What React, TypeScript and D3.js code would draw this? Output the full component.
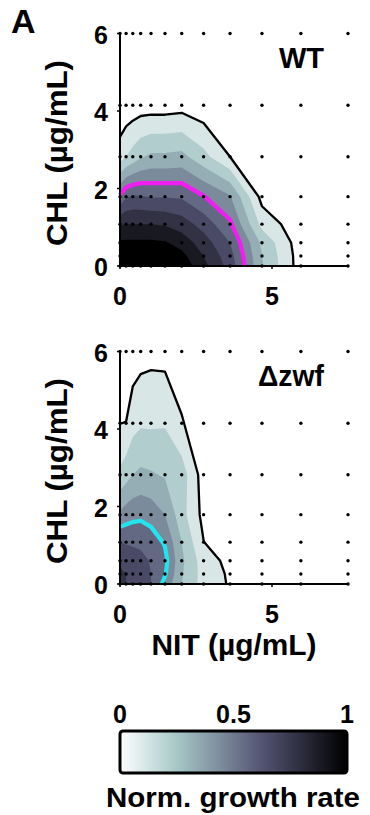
import React from 'react';
import * as d3 from 'd3';

// Concentration grid (measurement points shown as dots)
const nitConc = [0, 0.2, 0.42, 0.68, 1.02, 1.48, 2.03, 2.75, 3.62, 4.67, 5.95, 7.5];
const chlConc = [0, 0.26, 0.6, 1.08, 1.79, 2.82, 4.15, 6];

// Normalized growth rate, rows = CHL (bottom to top), columns = NIT
const wtGrowth = [
  [1.0, 1.0, 1.0, 1.0, 1.0, 0.99, 0.97, 0.83, 0.66, 0.31, 0.05, 0],
  [0.97, 0.97, 0.97, 0.97, 0.97, 0.96, 0.93, 0.8, 0.64, 0.3, 0.05, 0],
  [0.915, 0.92, 0.92, 0.92, 0.92, 0.91, 0.86, 0.75, 0.6, 0.28, 0.04, 0],
  [0.79, 0.8, 0.8, 0.8, 0.8, 0.79, 0.75, 0.66, 0.517, 0.167, 0.03, 0],
  [0.515, 0.591, 0.611, 0.609, 0.593, 0.593, 0.587, 0.505, 0.41, 0.064, 0.01, 0],
  [0.15, 0.2, 0.24, 0.288, 0.32, 0.32, 0.33, 0.232, 0.1, 0.03, 0, 0],
  [0.02, 0.03, 0.04, 0.05, 0.05, 0.05, 0.06, 0.03, 0.02, 0.01, 0, 0],
  [0, 0, 0, 0, 0, 0, 0, 0, 0, 0, 0, 0],
];
const zwfGrowth = [
  [0.72, 0.7, 0.68, 0.65, 0.6, 0.47, 0.3, 0.16, 0.09, 0.02, 0, 0],
  [0.72, 0.7, 0.68, 0.65, 0.6, 0.51, 0.31, 0.16, 0.085, 0.02, 0, 0],
  [0.68, 0.67, 0.66, 0.64, 0.59, 0.53, 0.32, 0.15, 0.07, 0.01, 0, 0],
  [0.6, 0.59, 0.58, 0.57, 0.55, 0.49, 0.3, 0.102, 0.03, 0, 0, 0],
  [0.42, 0.45, 0.47, 0.48, 0.46, 0.4, 0.237, 0.07, 0.01, 0, 0, 0],
  [0.22, 0.26, 0.3, 0.32, 0.31, 0.29, 0.25, 0.05, 0, 0, 0, 0],
  [0.099, 0.102, 0.163, 0.187, 0.185, 0.19, 0.111, 0.01, 0, 0, 0, 0],
  [0, 0.02, 0.04, 0.06, 0.07, 0.065, 0.02, 0, 0, 0, 0, 0],
];

const contourLevels = [0.1, 0.2, 0.3, 0.4, 0.5, 0.6, 0.7, 0.8, 0.9];
const outlineLevel = 0.1;
const highlightLevel = 0.5;
const panelNames = ['WT', '\u0394zwf'];
const panelGrids = [wtGrowth, zwfGrowth];
const xTicks = [0, 5];
const yTicks = [0, 2, 4, 6];
const colorbarTicks = [0, 0.5, 1];

const FONT = "'Liberation Sans', Arial, Helvetica, sans-serif";

function bone(t: number) {
  const c = (v: number) => Math.max(0, Math.min(1, v));
  const r = (7 * t + c((t - 0.75) / 0.25)) / 8;
  const g = (7 * t + c((t - 0.375) / 0.375)) / 8;
  const b = (7 * t + c(t / 0.375)) / 8;
  return d3.rgb(r * 255, g * 255, b * 255).formatHex();
}
const cmap = (v: number) => bone(1 - Math.max(0, Math.min(1, v)));
// fill colour scale for contour bands (colour limits 0 .. top level)
const bandColor = (level: number) => cmap(level / contourLevels[contourLevels.length - 1]);

function idxToVal(arr: number[], c: number) {
  const u = Math.max(0, Math.min(arr.length - 1, c - 0.5));
  const i = Math.min(arr.length - 2, Math.floor(u));
  const f = u - i;
  return arr[i] + f * (arr[i + 1] - arr[i]);
}

const x = d3.scaleLinear().domain([0, 7.5]).range([120, 348]);
const y = d3.scaleLinear().domain([0, 6]).range([266, 33.5]);
const PANEL_DY = 318;

function Panel({ grid, name, idx }: { grid: number[][]; name: string; idx: number }) {
  const nx = nitConc.length;
  const ny = chlConc.length;
  const flat = grid.flat();
  const gen = d3.contours().size([nx, ny]).thresholds(contourLevels);
  const polys = gen(flat);

  const toData = (p: number[]) => [idxToVal(nitConc, p[0]), idxToVal(chlConc, p[1])];

  const fillPath = (mp: any) => {
    let d = '';
    for (const poly of mp.coordinates) {
      for (const ring of poly) {
        ring.forEach((p: number[], i: number) => {
          const [a, b] = toData(p);
          d += (i === 0 ? 'M' : 'L') + x(a).toFixed(2) + ',' + y(b).toFixed(2);
        });
        d += 'Z';
      }
    }
    return d;
  };

  const strokePath = (mp: any) => {
    let d = '';
    const eps = 1e-9;
    for (const poly of mp.coordinates) {
      for (const ring of poly) {
        const pts = ring.map(toData);
        let penDown = false;
        for (let i = 0; i < pts.length - 1; i++) {
          const p0 = pts[i];
          const p1 = pts[i + 1];
          const boundary =
            (p0[0] <= eps && p1[0] <= eps) || (p0[1] <= eps && p1[1] <= eps);
          if (boundary) {
            penDown = false;
            continue;
          }
          if (!penDown) {
            d += 'M' + x(p0[0]).toFixed(2) + ',' + y(p0[1]).toFixed(2);
            penDown = true;
          }
          d += 'L' + x(p1[0]).toFixed(2) + ',' + y(p1[1]).toFixed(2);
        }
      }
    }
    return d;
  };

  const outline = polys.find((p) => Math.abs(p.value - outlineLevel) < 1e-9);
  const hl = polys.find((p) => Math.abs(p.value - highlightLevel) < 1e-9);
  const hlColor = idx === 0 ? '#f01ef0' : '#22e4ee';

  return (
    <g transform={`translate(0,${idx * PANEL_DY})`}>
      {polys.map((p, i) => (
        <path key={i} d={fillPath(p)} fill={bandColor(p.value)} stroke="none" />
      ))}
      {hl && (
        <path d={strokePath(hl)} fill="none" stroke={hlColor} strokeWidth={4.2} strokeLinejoin="round" />
      )}
      {outline && (
        <path d={strokePath(outline)} fill="none" stroke="#000" strokeWidth={2.3} strokeLinejoin="round" />
      )}
      {chlConc.map((c, j) =>
        nitConc.map((n, i) => (
          <circle key={`${i}-${j}`} cx={x(n)} cy={y(c)} r={1.7} fill="#000" />
        ))
      )}
      {/* axes */}
      <line x1={x(0)} x2={x(0)} y1={y(6) - 1} y2={y(0)} stroke="#000" strokeWidth={2} />
      <line x1={x(0)} x2={x(7.5)} y1={y(0)} y2={y(0)} stroke="#000" strokeWidth={2} />
      {yTicks.map((t) => (
        <g key={t}>
          <line x1={x(0) - 3} x2={x(0)} y1={y(t)} y2={y(t)} stroke="#000" strokeWidth={1.5} />
          <text x={108} y={y(t) + 10} textAnchor="end" fontSize={25} fontWeight="bold" fontFamily={FONT}>
            {t}
          </text>
        </g>
      ))}
      {xTicks.map((t) => (
        <g key={t}>
          <line x1={x(t)} x2={x(t)} y1={y(0)} y2={y(0) + 3} stroke="#000" strokeWidth={1.5} />
          <text x={x(t)} y={305} textAnchor="middle" fontSize={25} fontWeight="bold" fontFamily={FONT}>
            {t}
          </text>
        </g>
      ))}
      <text
        transform="translate(67,153)rotate(-90)"
        textAnchor="middle"
        fontSize={29}
        fontWeight="bold"
        fontFamily={FONT}
        textLength={186}
        lengthAdjust="spacingAndGlyphs"
      >
        CHL (µg/mL)
      </text>
      <text
        x={324}
        y={68}
        textAnchor="end"
        fontSize={29}
        fontWeight="bold"
        fontFamily={FONT}
        {...(idx === 1 ? { textLength: 66, lengthAdjust: 'spacingAndGlyphs' } : {})}
      >
        {name}
      </text>
    </g>
  );
}

export default function App() {
  const cb = d3.scaleLinear().domain([0, 1]).range([120, 347]);
  const stops = d3.range(0, 1.0001, 0.05);
  return (
    <svg
      width={370}
      height={815}
      viewBox="0 0 370 815"
      style={{ position: 'absolute', left: 0, top: 0, display: 'block', background: '#fff' }}
    >
      <defs>
        <linearGradient id="cbgrad" x1="0" x2="1" y1="0" y2="0">
          {stops.map((s) => (
            <stop key={s} offset={s} stopColor={cmap(s)} />
          ))}
        </linearGradient>
      </defs>
      <rect x={0} y={0} width={370} height={815} fill="#fff" />
      <text x={11} y={33} fontSize={34} fontWeight="bold" fontFamily={FONT}>
        A
      </text>
      {panelGrids.map((g, i) => (
        <Panel key={i} grid={g} name={panelNames[i]} idx={i} />
      ))}
      <text
        x={234}
        y={655}
        textAnchor="middle"
        fontSize={29}
        fontWeight="bold"
        fontFamily={FONT}
        textLength={165}
        lengthAdjust="spacingAndGlyphs"
      >
        NIT (µg/mL)
      </text>
      {/* colorbar */}
      {colorbarTicks.map((t) => (
        <text key={t} x={cb(t)} y={723} textAnchor="middle" fontSize={25} fontWeight="bold" fontFamily={FONT}>
          {t}
        </text>
      ))}
      <rect
        x={cb(0)}
        y={731}
        width={cb(1) - cb(0)}
        height={42}
        fill="url(#cbgrad)"
        stroke="#000"
        strokeWidth={3}
        rx={3}
      />
      <text
        x={233}
        y={807}
        textAnchor="middle"
        fontSize={28}
        fontWeight="bold"
        fontFamily={FONT}
        textLength={254}
        lengthAdjust="spacingAndGlyphs"
      >
        Norm. growth rate
      </text>
    </svg>
  );
}
